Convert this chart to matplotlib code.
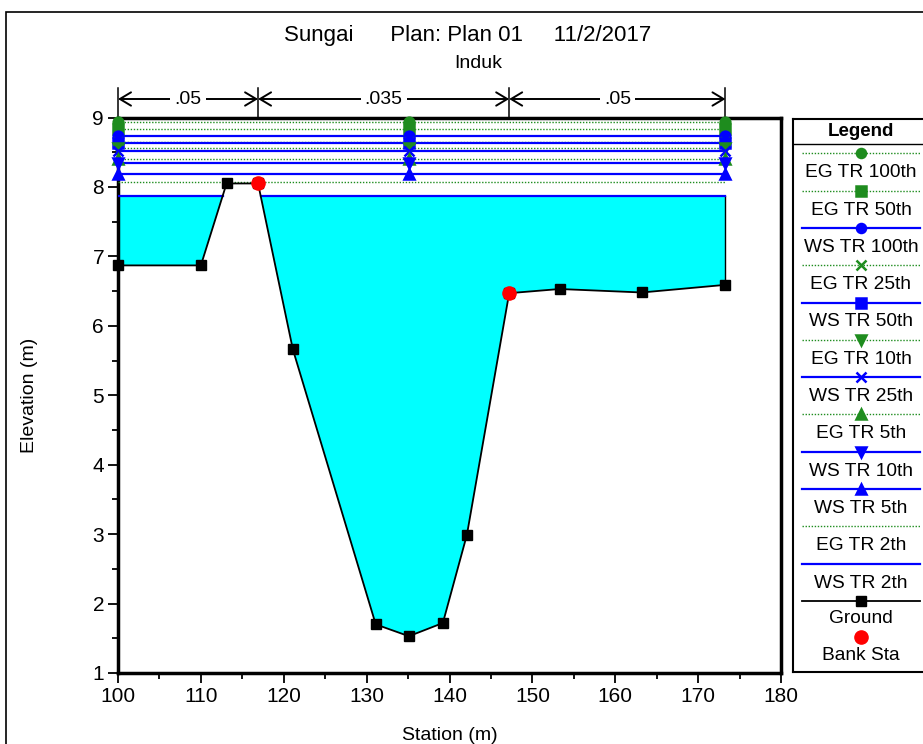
import numpy as np
import matplotlib
matplotlib.use("Agg")
import matplotlib.pyplot as plt
from matplotlib.patches import Rectangle
from matplotlib.ticker import MultipleLocator

plt.rcParams['font.family'] = ['Liberation Sans', 'DejaVu Sans']

# Ground profile (station m, elevation m)
station = [100, 110, 113.1, 116.9, 121.1, 131.1, 135.1, 139.2, 142.1, 147.2, 153.3, 163.2, 173.3]
ground = [6.87, 6.87, 8.05, 8.05, 5.66, 1.70, 1.53, 1.72, 2.99, 6.47, 6.53, 6.48, 6.59]
bank_sta = [116.9, 147.2]
bank_elev = [8.05, 6.47]

# Water surface / energy grade profiles
profiles = ["EG TR 100th", "EG TR 50th", "WS TR 100th", "EG TR 25th", "WS TR 50th", "EG TR 10th",
            "WS TR 25th", "EG TR 5th", "WS TR 10th", "WS TR 5th", "EG TR 2th", "WS TR 2th"]
levels = [8.93, 8.84, 8.73, 8.65, 8.63, 8.56, 8.52, 8.40, 8.35, 8.19, 8.07, 7.87]
markers = ['o', 's', 'o', 'x', 's', 'v', 'x', '^', 'v', '^', None, None]

# Manning's n regions
n_values = [".05", ".035", ".05"]
n_breaks = [100, 116.9, 147.2, 173.3]


def wet_spans(x, z, level):
    spans = []
    start = x[0] if z[0] < level else None
    for i in range(len(x) - 1):
        a, b = z[i] - level, z[i + 1] - level
        if a < 0 <= b or a >= 0 > b:
            xc = x[i] + (x[i + 1] - x[i]) * a / (a - b)
            if start is None:
                start = xc
            else:
                spans.append((start, xc))
                start = None
    if start is not None:
        spans.append((start, x[-1]))
    return spans


def style_of(name):
    if name.startswith("EG"):
        return dict(color='#1e8c1e', linestyle=(0, (1, 1.2)), lw=1.0)
    return dict(color='#0000ff', linestyle='-', lw=1.6)


s = np.array(station)
g = np.array(ground)
ws2 = levels[-1]

fig = plt.figure(figsize=(9.23, 7.44), dpi=100)
ax = fig.add_axes([118 / 923, 1 - 673 / 744, (781 - 118) / 923, (673 - 117.5) / 744])

# water fill
ax.fill_between(s, g, ws2, where=g < ws2, interpolate=True, color='#00ffff', lw=0, zorder=1)
ax.plot([s[-1], s[-1]], [g[-1], ws2], color='k', lw=1, zorder=2)

# profile lines
mark_x = [s[0], s[np.argmin(g)], s[-1]]
for name, lvl, mk in zip(profiles, levels, markers):
    st = style_of(name)
    for x0, x1 in wet_spans(s, g, lvl):
        ax.plot([x0, x1], [lvl, lvl], zorder=3, **st)
    if mk is not None:
        ax.plot(mark_x, [lvl] * 3, linestyle='none', marker=mk, color=st['color'],
                ms=7, mew=1.8, zorder=4, clip_on=False)

# ground and bank stations
ax.plot(s, g, color='k', lw=1.3, marker='s', ms=7, zorder=5, clip_on=False)
ax.plot(bank_sta, bank_elev, linestyle='none', marker='o', color='red', ms=9.5, zorder=6)

ax.set_xlim(100, 180)
ax.set_ylim(1, 9)
ax.xaxis.set_major_locator(MultipleLocator(10))
ax.xaxis.set_minor_locator(MultipleLocator(5))
ax.yaxis.set_major_locator(MultipleLocator(1))
ax.yaxis.set_minor_locator(MultipleLocator(0.5))
ax.tick_params(which='major', direction='out', length=7, width=1.3, labelsize=15, pad=3)
ax.tick_params(which='minor', direction='out', length=4, width=1.3)
for sp in ax.spines.values():
    sp.set_linewidth(2.5)

# Manning's n markers above the plot
trans = ax.get_xaxis_transform()
y_arrow = 1 + (117.5 - 99) / 555.5
y_top = 1 + (117.5 - 88) / 555.5
for b in n_breaks:
    ax.plot([b, b], [1.0, y_top], transform=trans, color='k', lw=1.1, clip_on=False)
for i, n in enumerate(n_values):
    x0, x1 = n_breaks[i], n_breaks[i + 1]
    ax.annotate('', xy=(x0, y_arrow), xytext=(x1, y_arrow), xycoords=trans, textcoords=trans,
                arrowprops=dict(arrowstyle='<->, head_length=0.5, head_width=0.3', lw=1.4,
                                color='k', mutation_scale=16, shrinkA=0, shrinkB=0))
    ax.text((x0 + x1) / 2, y_arrow, n, transform=trans, ha='center', va='center', fontsize=14,
            bbox=dict(facecolor='white', edgecolor='none', pad=3))

fig.text(468 / 923, 1 - 35 / 744, "Sungai      Plan: Plan 01     11/2/2017",
         ha='center', va='center', fontsize=16)
fig.text(478 / 923, 1 - 64 / 744, "Induk", ha='center', va='center', fontsize=14)
fig.text(30 / 923, 1 - 395 / 744, "Elevation (m)", rotation=90, ha='center', va='center', fontsize=14)
fig.text(450 / 923, 1 - 735 / 744, "Station (m)", ha='center', va='center', fontsize=14)

# outer frame
fig.add_artist(Rectangle((6 / 923, -0.05), 1.0, 732 / 744 + 0.05, transform=fig.transFigure,
                         fill=False, edgecolor='k', lw=1.2))

# legend panel
lax = fig.add_axes([793 / 923, 1 - 672 / 744, 140 / 923, (672 - 119) / 744])
lax.set_xlim(793, 933)
lax.set_ylim(672, 119)
lax.set_xticks([])
lax.set_yticks([])
for sp in lax.spines.values():
    sp.set_linewidth(1.5)
lax.text(861, 131, "Legend", ha='center', va='center', fontsize=13.5, fontweight='bold')
lax.plot([793, 933], [143.5, 143.5], color='k', lw=1)

row = 37.3
for i, (name, mk) in enumerate(zip(profiles, markers)):
    st = style_of(name)
    y = 153.3 + row * i
    lax.plot([802, 920], [y, y], **st)
    if mk is not None:
        lax.plot([861], [y], marker=mk, color=st['color'], ms=6.5, mew=1.8)
    lax.text(861, y + 19.5, name, ha='center', va='center', fontsize=13.8)

y = 153.3 + row * 12
lax.plot([802, 920], [y, y], color='k', lw=1.3)
lax.plot([861], [y], marker='s', color='k', ms=7)
lax.text(861, y + 18, "Ground", ha='center', va='center', fontsize=13.8)
lax.plot([861], [y + 36], marker='o', color='red', ms=9.5)
lax.text(861, y + 55, "Bank Sta", ha='center', va='center', fontsize=13.8)

fig.savefig("out.png", dpi=100)
